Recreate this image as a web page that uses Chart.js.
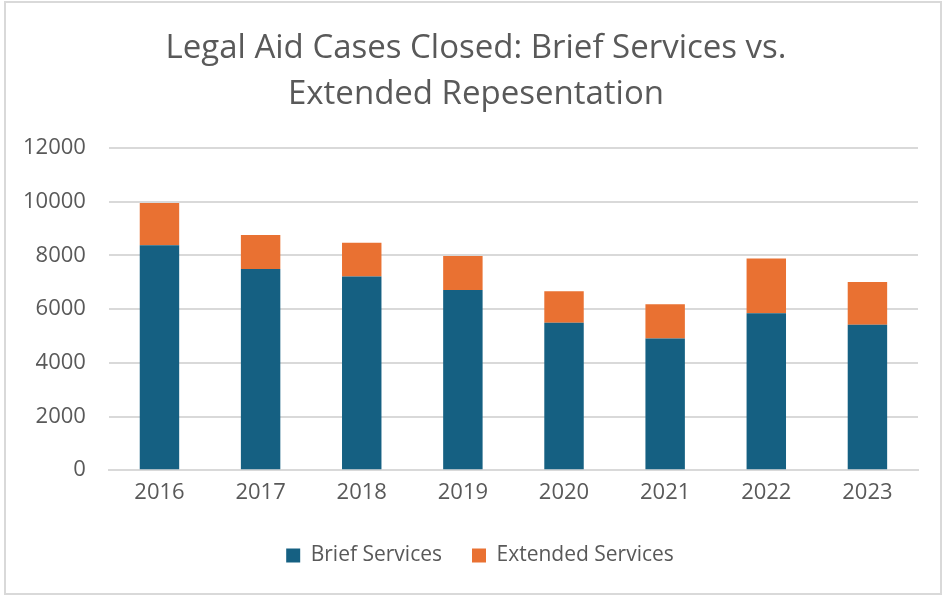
<!DOCTYPE html>
<html>
<head>
<meta charset="utf-8">
<script src="https://cdn.jsdelivr.net/npm/chart.js@4.4.1/dist/chart.umd.min.js"></script>
<style>
    html, body { margin: 0; padding: 0; background: #fff; }
    #wrap {
        position: absolute; left: 4px; top: 1px;
        width: 934px; height: 590px;
        border: 2px solid #d9d9d9;
    }
</style>
</head>
<body>
<div id="wrap"><canvas id="myChart" width="934" height="590"></canvas></div>
<script>
// data
var years = ['2016', '2017', '2018', '2019', '2020', '2021', '2022', '2023'];
var briefServices = [8380, 7500, 7215, 6715, 5495, 4910, 5845, 5420];
var extendedServices = [1570, 1260, 1260, 1260, 1175, 1270, 2045, 1595];

var textColor = '#595959';
var fontFamily = "'Open Sans', 'Noto Sans', sans-serif";

// title and legend sit a little right of the full-width centre in the original
var nudgeBoxes = {
    id: 'nudgeBoxes',
    afterLayout: function (chart) {
        chart.titleBlock.left += 17;
        chart.titleBlock.right += 17;
        chart.legend.left += 21;
        chart.legend.right += 21;
    }
};

var myChart = new Chart(document.getElementById('myChart'), {
    type: 'bar',
    data: {
        labels: years,
        datasets: [{
            label: 'Brief Services',
            backgroundColor: '#156082',
            data: briefServices,
            categoryPercentage: 0.78,
            barPercentage: 0.5
        }, {
            label: 'Extended Services',
            backgroundColor: '#e97132',
            data: extendedServices,
            categoryPercentage: 0.78,
            barPercentage: 0.5
        }]
    },
    options: {
        responsive: false,
        animation: false,
        devicePixelRatio: 1,
        layout: {
            padding: { left: -6, right: 22, top: 23, bottom: 17 }
        },
        scales: {
            x: {
                stacked: true,
                grid: { display: false, drawTicks: false },
                border: { color: '#d9d9d9', width: 2 },
                ticks: { color: textColor, font: { family: fontFamily, size: 22, lineHeight: 0.4 }, padding: 18 }
            },
            y: {
                stacked: true,
                min: 0,
                max: 12000,
                ticks: {
                    stepSize: 2000,
                    color: textColor,
                    font: { family: fontFamily, size: 22 },
                    padding: 23,
                    callback: function (value) { return String(value); }
                },
                grid: { color: '#d9d9d9', lineWidth: 2, drawTicks: false },
                border: { display: false }
            }
        },
        plugins: {
            title: {
                display: true,
                text: ['Legal Aid Cases Closed: Brief Services vs.', 'Extended Repesentation'],
                color: textColor,
                font: { family: fontFamily, size: 33, weight: 'normal', lineHeight: 1.38 },
                padding: { top: 0, bottom: 31 }
            },
            legend: {
                display: true,
                position: 'bottom',
                labels: {
                    boxWidth: 14,
                    boxHeight: 14,
                    color: textColor,
                    padding: 30,
                    font: { family: fontFamily, size: 21 }
                }
            },
            tooltip: { enabled: false }
        }
    },
    plugins: [nudgeBoxes]
});
</script>
</body>
</html>
